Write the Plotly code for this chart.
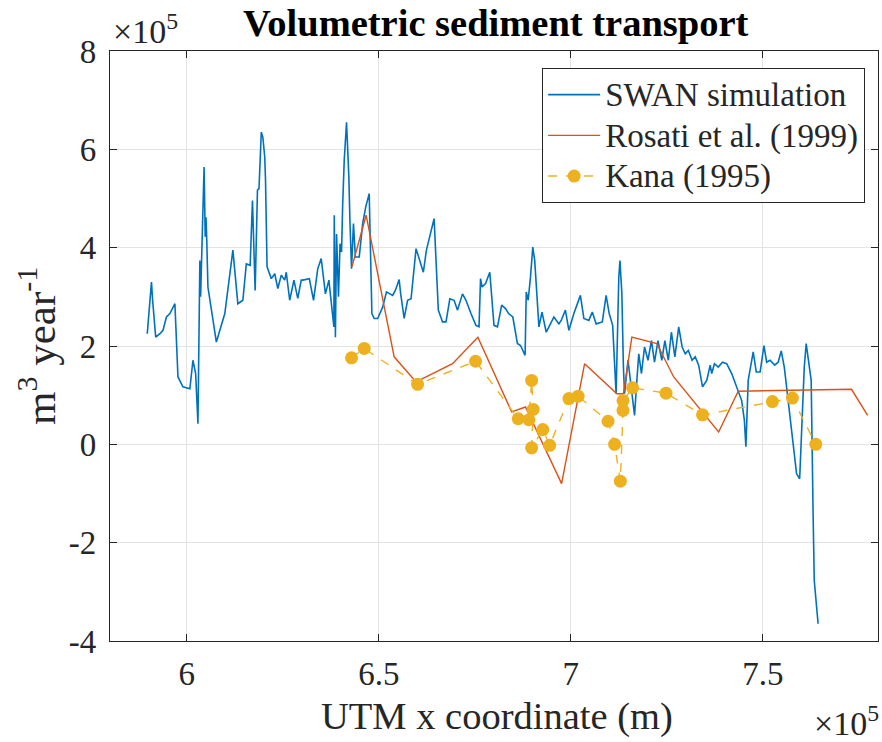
import plotly.graph_objects as go

# x in units of 1e5 m, y in units of 1e5 m^3/year
swan_x = [5.897, 5.908, 5.911, 5.919, 5.930, 5.938, 5.947, 5.956, 5.969, 5.977, 5.990, 6.008, 6.016, 6.023,
          6.029, 6.034, 6.036, 6.039, 6.045, 6.048, 6.050, 6.052, 6.055, 6.077, 6.099, 6.120, 6.133, 6.146,
          6.155, 6.165, 6.171, 6.178, 6.184, 6.188, 6.194, 6.198, 6.203, 6.205, 6.209, 6.220, 6.229, 6.237,
          6.246, 6.255, 6.259, 6.268, 6.279, 6.289, 6.298, 6.302, 6.319, 6.330, 6.341, 6.350, 6.361, 6.370,
          6.376, 6.383, 6.384, 6.387, 6.390, 6.395, 6.399, 6.403, 6.406, 6.410, 6.416, 6.419, 6.422, 6.425,
          6.429, 6.434, 6.439, 6.449, 6.458, 6.466, 6.475, 6.482, 6.488, 6.497, 6.510, 6.520, 6.536, 6.543,
          6.553, 6.557, 6.566, 6.575, 6.584, 6.597, 6.606, 6.616, 6.624, 6.635, 6.644, 6.655, 6.666, 6.675,
          6.685, 6.696, 6.705, 6.718, 6.727, 6.740, 6.753, 6.761, 6.765, 6.769, 6.778, 6.789, 6.794, 6.800,
          6.809, 6.820, 6.830, 6.838, 6.849, 6.861, 6.869, 6.881, 6.884, 6.889, 6.895, 6.901, 6.906, 6.912,
          6.917, 6.925, 6.936, 6.947, 6.956, 6.969, 6.975, 6.986, 6.995, 7.008, 7.014, 7.025, 7.034, 7.047,
          7.056, 7.066, 7.082, 7.092, 7.100, 7.109, 7.118, 7.125, 7.128, 7.133, 7.137, 7.140, 7.149, 7.155,
          7.166, 7.172, 7.177, 7.184, 7.192, 7.201, 7.210, 7.218, 7.227, 7.237, 7.245, 7.254, 7.262, 7.271,
          7.281, 7.290, 7.298, 7.306, 7.316, 7.324, 7.333, 7.343, 7.354, 7.363, 7.367, 7.374, 7.384, 7.395,
          7.406, 7.419, 7.432, 7.445, 7.452, 7.456, 7.462, 7.475, 7.483, 7.493, 7.503, 7.510, 7.519, 7.531,
          7.540, 7.548, 7.556, 7.564, 7.575, 7.584, 7.588, 7.596, 7.603, 7.608, 7.613, 7.621, 7.626, 7.631,
          7.634, 7.644]
swan_y = [2.25, 3.30, 2.93, 2.18, 2.25, 2.32, 2.59, 2.66, 2.86, 1.37, 1.17, 1.13, 1.71, 1.44,
          0.42, 3.74, 3.00, 3.81, 5.64, 4.22, 4.62, 4.15, 3.20, 2.08, 2.66, 3.95, 2.86, 2.93,
          3.67, 3.64, 4.96, 3.13, 5.17, 5.20, 6.35, 6.25, 5.84, 5.37, 3.61, 3.37, 3.47, 3.17,
          3.44, 3.34, 3.50, 2.93, 3.34, 2.97, 3.34, 3.34, 3.37, 2.93, 3.57, 3.78, 3.06, 3.34,
          2.93, 2.39, 4.66, 2.18, 4.28, 3.00, 4.08, 3.91, 4.89, 5.78, 6.55, 6.05, 5.44, 4.49,
          3.57, 4.49, 3.81, 3.81, 4.49, 4.83, 5.10, 2.66, 2.56, 2.56, 2.79, 3.10, 3.03, 3.13,
          3.35, 3.06, 2.56, 2.93, 2.96, 3.98, 3.74, 3.50, 3.95, 4.28, 4.59, 2.73, 2.49, 2.49,
          2.96, 2.93, 2.73, 3.06, 2.93, 2.66, 2.42, 2.39, 3.37, 3.20, 3.27, 3.50, 2.93, 2.42,
          2.39, 2.83, 2.76, 2.66, 2.59, 2.05, 2.01, 1.81, 3.10, 2.93, 3.40, 4.01, 3.74, 2.93,
          2.39, 2.69, 2.28, 2.45, 2.59, 2.45, 2.52, 2.73, 2.32, 2.66, 2.80, 3.03, 2.56, 2.52,
          2.69, 2.45, 2.49, 3.03, 2.66, 2.42, 1.03, 3.40, 3.74, 3.06, 1.57, 1.03, 1.71, 1.30,
          0.59, 1.30, 1.84, 1.44, 1.98, 1.71, 2.11, 1.67, 2.11, 1.71, 2.11, 1.71, 2.28, 1.78,
          2.39, 1.98, 1.84, 1.91, 1.71, 1.78, 1.61, 1.17, 1.30, 1.61, 1.44, 1.64, 1.57, 1.67,
          1.64, 1.44, 1.17, 0.89, 0.49, -0.05, 1.30, 1.88, 1.47, 1.47, 2.01, 1.67, 1.71, 1.61,
          1.67, 1.90, 1.57, 1.03, 0.35, -0.33, -0.60, -0.70, 0.62, 1.57, 2.05, 1.57, 1.30, -1.41,
          -2.77, -3.65]

rosati_x = [6.430, 6.467, 6.540, 6.597, 6.692, 6.758, 6.846, 6.882, 6.976, 7.036, 7.120, 7.137,
            7.159, 7.224, 7.268, 7.385, 7.436, 7.731, 7.773]
rosati_y = [3.61, 4.66, 1.78, 1.27, 1.64, 2.18, 0.66, 0.76, -0.80, 1.64, 1.03, 1.03,
            2.18, 2.05, 1.37, 0.25, 1.08, 1.12, 0.59]

kana_x = [6.429, 6.462, 6.601, 6.752, 6.863, 6.891, 6.898, 6.902, 6.898, 6.927, 6.945, 6.995,
          7.019, 7.097, 7.114, 7.129, 7.136, 7.136, 7.161, 7.248, 7.343, 7.525, 7.577, 7.638]
kana_y = [1.76, 1.95, 1.22, 1.69, 0.52, 0.50, 1.30, 0.71, -0.07, 0.30, -0.02, 0.93,
          0.98, 0.47, 0.00, -0.75, 0.69, 0.89, 1.15, 1.04, 0.60, 0.87, 0.94, 0.00]

series_names = ["SWAN simulation", "Rosati et al. (1999)", "Kana (1995)"]

x_ticks = [6, 6.5, 7, 7.5]
x_ticktext = ["6", "6.5", "7", "7.5"]
y_ticks = [-4, -2, 0, 2, 4, 6, 8]
y_ticktext = ["-4", "-2", "0", "2", "4", "6", "8"]

FONT = "Liberation Serif, Times New Roman, serif"
AX = "#262626"


def leg(name):
    return '<span style="font-size:33px">' + name + "</span>"


fig = go.Figure()
fig.add_trace(go.Scatter(x=swan_x, y=swan_y, mode="lines", name=leg(series_names[0]),
                         line=dict(color="#0072BD", width=1.6)))
fig.add_trace(go.Scatter(x=rosati_x, y=rosati_y, mode="lines", name=leg(series_names[1]),
                         line=dict(color="#D95319", width=1.4)))
fig.add_trace(go.Scatter(x=kana_x, y=kana_y, mode="lines+markers", name=leg(series_names[2]),
                         line=dict(color="#EDB120", width=1.4, dash="dash"),
                         marker=dict(color="#EDB120", size=13)))

axis_common = dict(showline=True, linecolor=AX, linewidth=1.2, mirror="ticks", ticks="inside",
                   ticklen=7, tickcolor=AX, tickwidth=1.2, showgrid=True, gridcolor="#e3e3e3",
                   gridwidth=1, zeroline=False, tickfont=dict(family=FONT, size=33, color=AX))

fig.update_layout(
    width=882, height=742,
    margin=dict(l=110, r=4, t=51, b=101),
    paper_bgcolor="white", plot_bgcolor="white",
    xaxis=dict(range=[5.8, 7.8], tickvals=x_ticks, ticktext=x_ticktext, ticklabelstandoff=3, **axis_common),
    yaxis=dict(range=[-4, 8], tickvals=y_ticks, ticktext=y_ticktext, ticklabelstandoff=6, **axis_common),
    showlegend=True,
    legend=dict(x=0.983, y=0.971, xanchor="right", yanchor="top", bgcolor="white",
                bordercolor=AX, borderwidth=1.2, font=dict(family=FONT, size=29, color=AX),
                tracegroupgap=0, itemwidth=52),
)

annotations = [
    dict(text="<b>Volumetric sediment transport</b>", xref="paper", yref="paper", x=(496 - 110) / 768,
         y=1 + (51 - 23) / 590, xanchor="center", yanchor="middle", showarrow=False,
         font=dict(family=FONT, size=38.5, color="black")),
    dict(text="UTM x coordinate (m)", xref="paper", yref="paper", x=(497 - 110) / 768, y=-(716 - 641) / 590,
         xanchor="center", yanchor="middle", showarrow=False, font=dict(family=FONT, size=38.5, color=AX)),
    dict(text="m<sup>3</sup>&nbsp;year<sup>-1</sup>", xref="paper", yref="paper", x=-(110 - 37) / 768, y=0.5,
         xanchor="center", yanchor="middle", textangle=-90, showarrow=False,
         font=dict(family=FONT, size=43, color=AX)),
    dict(text="×10<sup>5</sup>", xref="paper", yref="paper", x=(111 - 110) / 768, y=1 + (51 - 29) / 590,
         xanchor="left", yanchor="middle", showarrow=False, font=dict(family=FONT, size=34, color=AX)),
    dict(text="×10<sup>5</sup>", xref="paper", yref="paper", x=(881 - 110) / 768, y=-(721 - 641) / 590,
         xanchor="right", yanchor="middle", showarrow=False, font=dict(family=FONT, size=34, color=AX)),
]
fig.update_layout(annotations=annotations)

fig.write_html("out.html")
